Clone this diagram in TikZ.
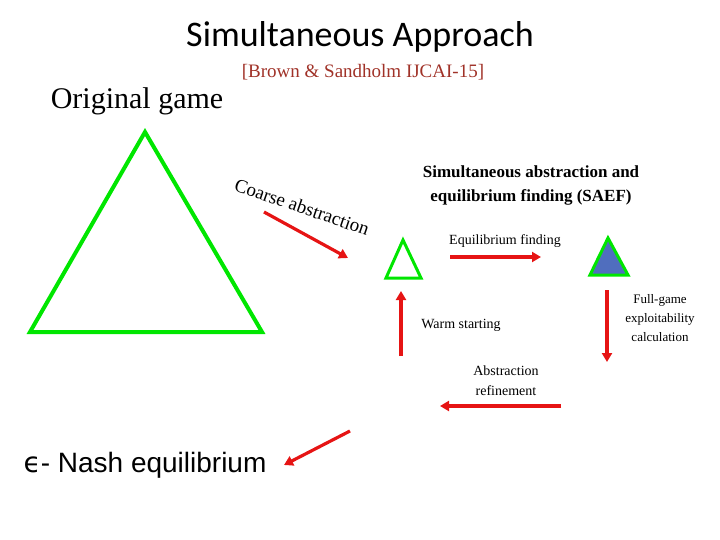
\documentclass[tikz,border=0pt]{standalone}
\usepackage{fontspec}
\setmainfont{Liberation Serif}
\newfontfamily\carl{Carlito}
\newfontfamily\ars{Liberation Sans}
\newfontfamily\dvs{DejaVu Sans}
\usetikzlibrary{arrows.meta}
\definecolor{gg}{RGB}{0,230,0}
\definecolor{rr}{RGB}{230,20,20}
\definecolor{br}{RGB}{160,50,40}
\definecolor{bl}{RGB}{80,110,190}
\tikzset{arr/.style={draw=rr,line width=3.2pt,-{Triangle[length=9pt,width=10pt]}},
tri/.style={draw=gg,line width=4pt,line join=miter}}
\begin{document}
\begin{tikzpicture}[x=1pt,y=-1pt]
\useasboundingbox (0,0) rectangle (720,540);
\node (title) at (360,37) {\carl\fontsize{36}{40}\selectfont Simultaneous Approach};
\node[text=br] (cite) at (363,72) {\fontsize{19}{22}\selectfont [Brown \& Sandholm IJCAI-15]};
\node (orig) at (137,101) {\fontsize{30}{34}\selectfont Original game};
\draw[tri] (145,132) -- (262,332) -- (30,332) -- cycle;
\node[rotate=-19,inner sep=0pt] (coarse) at (302,207) {\fontsize{19}{22}\selectfont Coarse abstraction};
\coordinate (c1) at (264,212); \coordinate (c2) at (348,258);
\draw[arr] (c1) -- (c2);
\draw[tri,line width=3pt] (403,240) -- (421,278) -- (386,278) -- cycle;
\node[align=center,font=\bfseries\fontsize{17}{24}\selectfont] (saef) at (531,185) {Simultaneous abstraction and\\equilibrium finding (SAEF)};
\node (eq) at (505,241) {\fontsize{14}{16}\selectfont Equilibrium finding};
\coordinate (e1) at (450,257); \coordinate (e2) at (541,257);
\draw[arr] (e1) -- (e2);
\draw[tri,line width=3pt,fill=bl] (608,238) -- (628,275) -- (590,275) -- cycle;
\coordinate (w1) at (401,356); \coordinate (w2) at (401,291);
\draw[arr] (w1) -- (w2);
\node (warm) at (461,325) {\fontsize{14}{16}\selectfont Warm starting};
\coordinate (f1) at (607,290); \coordinate (f2) at (607,362);
\draw[arr] (f1) -- (f2);
\node[align=center,font=\fontsize{13}{19}\selectfont] (full) at (660,318) {Full-game\\exploitability\\calculation};
\node[align=center,font=\fontsize{14}{20}\selectfont] (ref) at (506,381) {Abstraction\\refinement};
\coordinate (r1) at (561,406); \coordinate (r2) at (440,406);
\draw[arr] (r1) -- (r2);
\coordinate (n1) at (350,431); \coordinate (n2) at (284,465);
\draw[arr] (n1) -- (n2);
\node (nash) at (145,465) {\ars\fontsize{28}{32}\selectfont {\dvs ϵ}- Nash equilibrium};
\end{tikzpicture}
\end{document}
